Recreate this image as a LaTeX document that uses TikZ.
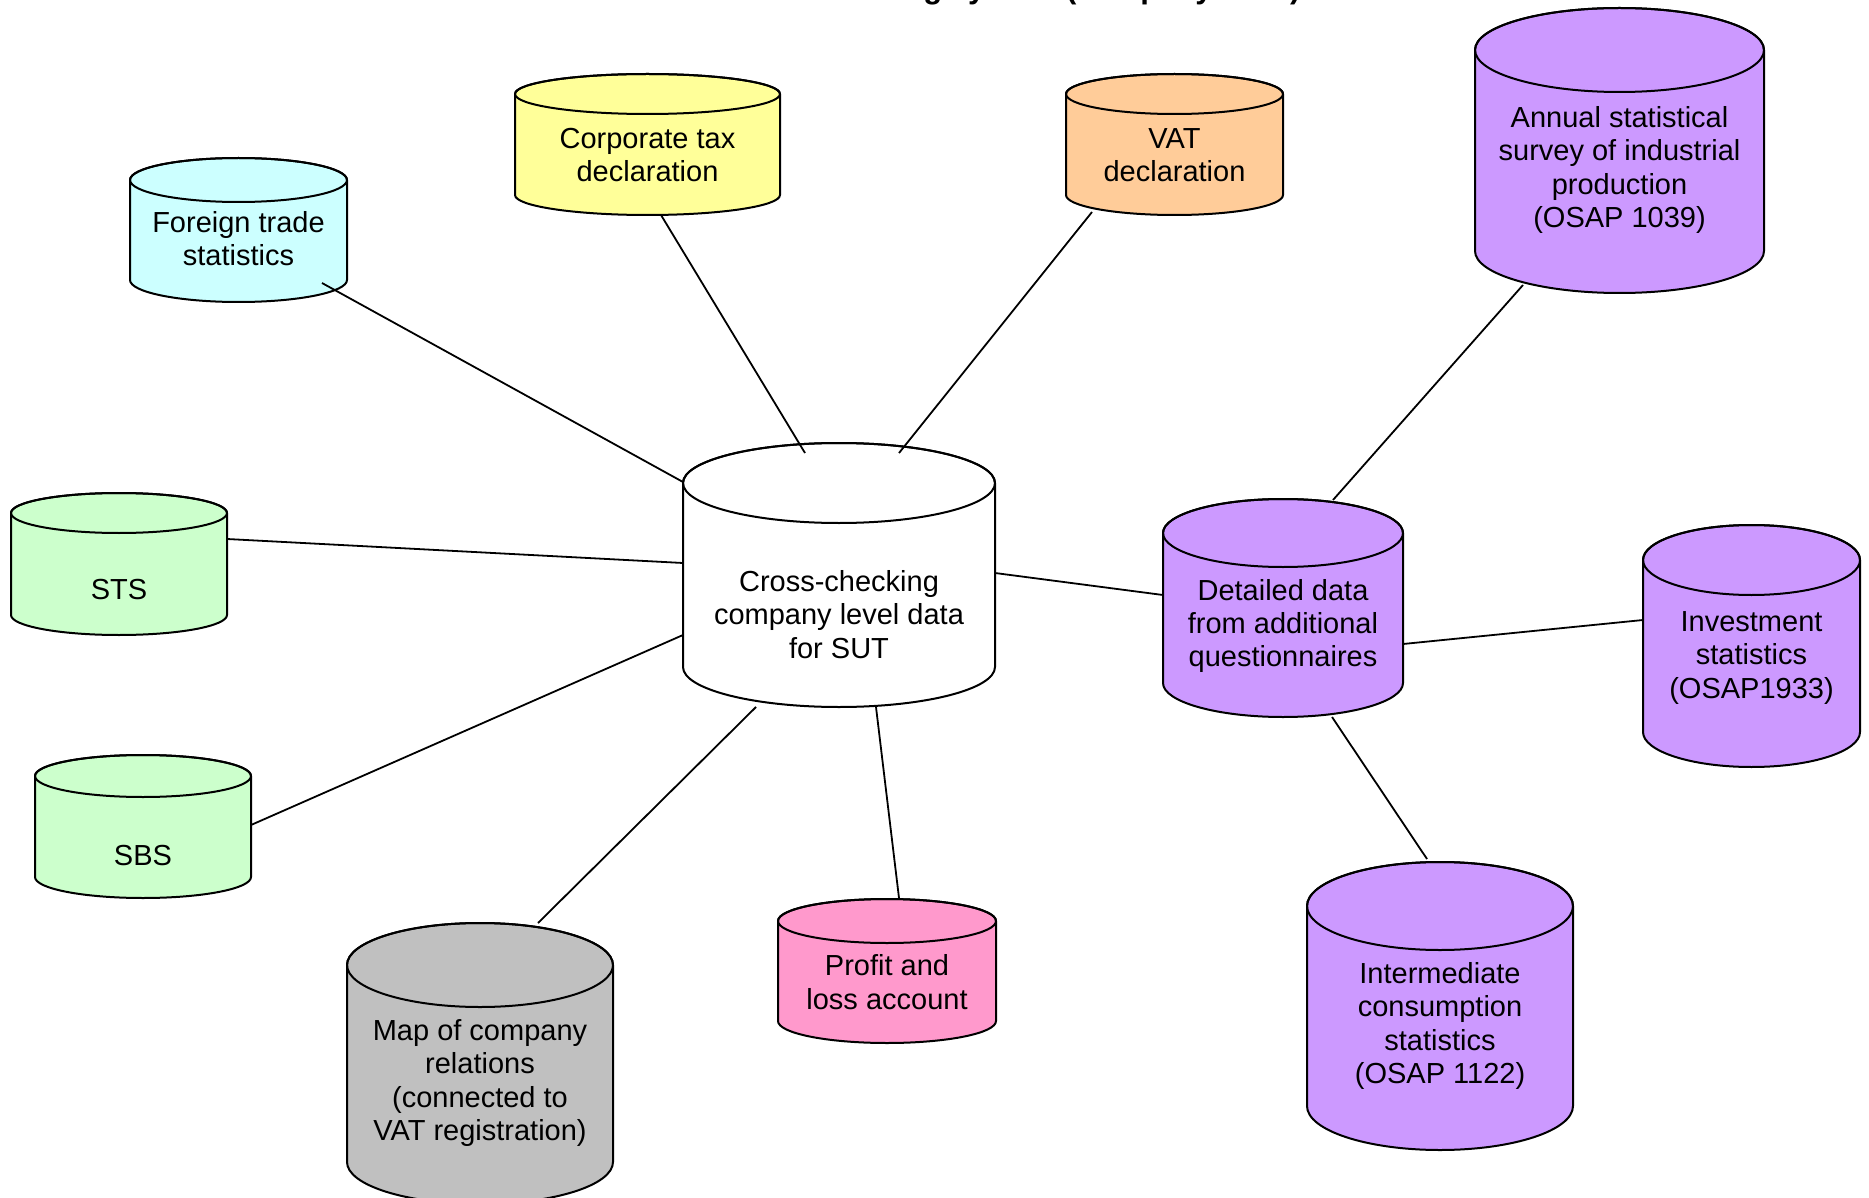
\documentclass[tikz,border=0pt]{standalone}
\usepackage{fontspec}
\setmainfont{Liberation Sans}
\begin{document}
\begin{tikzpicture}[x=0.5pt,y=-0.5pt,
  cylline/.style={draw=black, line width=1pt, line join=round},
  dbtext/.style={font=\fontsize{14.5}{16.7}\selectfont, align=center, inner sep=0pt},
  link/.style={draw=black, line width=0.9pt}]
\useasboundingbox (0,0) rectangle (1869,1198);
\clip (0,0) rectangle (1869,1198);
\definecolor{cyanfill}{HTML}{CCFFFF}
\definecolor{yellowfill}{HTML}{FFFF99}
\definecolor{orangefill}{HTML}{FFCC99}
\definecolor{violetfill}{HTML}{CC99FF}
\definecolor{greenfill}{HTML}{CCFFCC}
\definecolor{pinkfill}{HTML}{FF99CC}
\definecolor{greyfill}{HTML}{C0C0C0}
% database cylinder: name, fill, left, right, top, bottom, ry, text centre y, text
\newcommand\dbcyl[9]{%
  \pgfmathsetmacro\cylcx{(#3+#4)/2}%
  \pgfmathsetmacro\cylrx{(#4-#3)/2}%
  \filldraw[cylline, fill=#2] (#3,#5+#7) -- (#3,#6-#7)
    arc[start angle=180, end angle=0, x radius=\cylrx, y radius=#7]
    -- (#4,#5+#7)
    arc[start angle=0, end angle=-180, x radius=\cylrx, y radius=#7] -- cycle;
  \draw[cylline] (\cylcx,#5+#7) ellipse[x radius=\cylrx, y radius=#7];
  \node[dbtext] (#1) at (\cylcx,#8) {#9};
}

% heading, running off the top edge (only its descenders remain)
\node[anchor=base east, inner sep=0pt, font=\bfseries\fontsize{15.5}{18}\selectfont]
  (title) at (1301,-1.5) {Cross-checking system (company level)};

\dbcyl{ft}{cyanfill}{130}{347}{158}{302}{22}{238.5}{Foreign trade\\statistics}
\dbcyl{ct}{yellowfill}{515}{780}{74}{215}{20}{155}{Corporate tax\\declaration}
\dbcyl{vat}{orangefill}{1066}{1283}{74}{215}{20}{155}{VAT\\declaration}
\dbcyl{an}{violetfill}{1475}{1764}{8}{293}{42}{170}{Annual statistical\\survey of industrial\\production\\(OSAP 1039)}
\dbcyl{sts}{greenfill}{11}{227}{493}{635}{20}{590}{STS}
\dbcyl{sbs}{greenfill}{35}{251}{755}{898}{21}{855.5}{SBS}
\dbcyl{cc}{white}{683}{995}{443}{707}{40}{614.5}{Cross-checking\\company level data\\for SUT}
\dbcyl{dd}{violetfill}{1163}{1403}{499}{717}{34}{626}{Detailed data\\from additional\\questionnaires}
\dbcyl{inv}{violetfill}{1643}{1860}{525}{767}{35}{658}{Investment\\statistics\\(OSAP1933)}
\dbcyl{im}{violetfill}{1307}{1573}{862}{1150}{44}{1026}{Intermediate\\consumption\\statistics\\(OSAP 1122)}
\dbcyl{pl}{pinkfill}{778}{996}{899}{1043}{22}{982}{Profit and\\loss account}
\dbcyl{map}{greyfill}{347}{613}{923}{1204}{42}{1083}{Map of company\\relations\\(connected to\\VAT registration)}

% connector end points
\coordinate (ft-o)  at (322,283);  \coordinate (cc-ft)  at (683,482);
\coordinate (ct-o)  at (661,215);  \coordinate (cc-ct)  at (805,453);
\coordinate (vat-o) at (1092,212); \coordinate (cc-vat) at (899,453);
\coordinate (an-o)  at (1523,285); \coordinate (dd-an)  at (1333,500);
\coordinate (sts-o) at (227,539);  \coordinate (cc-sts) at (683,563);
\coordinate (sbs-o) at (251,825);  \coordinate (cc-sbs) at (683,635);
\coordinate (cc-dd) at (995,573);  \coordinate (dd-cc)  at (1163,595);
\coordinate (dd-inv) at (1403,644); \coordinate (inv-o) at (1643,620);
\coordinate (dd-im) at (1332,717); \coordinate (im-o)   at (1427,859);
\coordinate (cc-map) at (756,707); \coordinate (map-o)  at (538,923);
\coordinate (cc-pl) at (876,707);  \coordinate (pl-o)   at (899,898);

\draw[link] (ft-o) -- (cc-ft);
\draw[link] (ct-o) -- (cc-ct);
\draw[link] (vat-o) -- (cc-vat);
\draw[link] (an-o) -- (dd-an);
\draw[link] (sts-o) -- (cc-sts);
\draw[link] (sbs-o) -- (cc-sbs);
\draw[link] (cc-dd) -- (dd-cc);
\draw[link] (dd-inv) -- (inv-o);
\draw[link] (dd-im) -- (im-o);
\draw[link] (cc-map) -- (map-o);
\draw[link] (cc-pl) -- (pl-o);
\end{tikzpicture}
\end{document}
